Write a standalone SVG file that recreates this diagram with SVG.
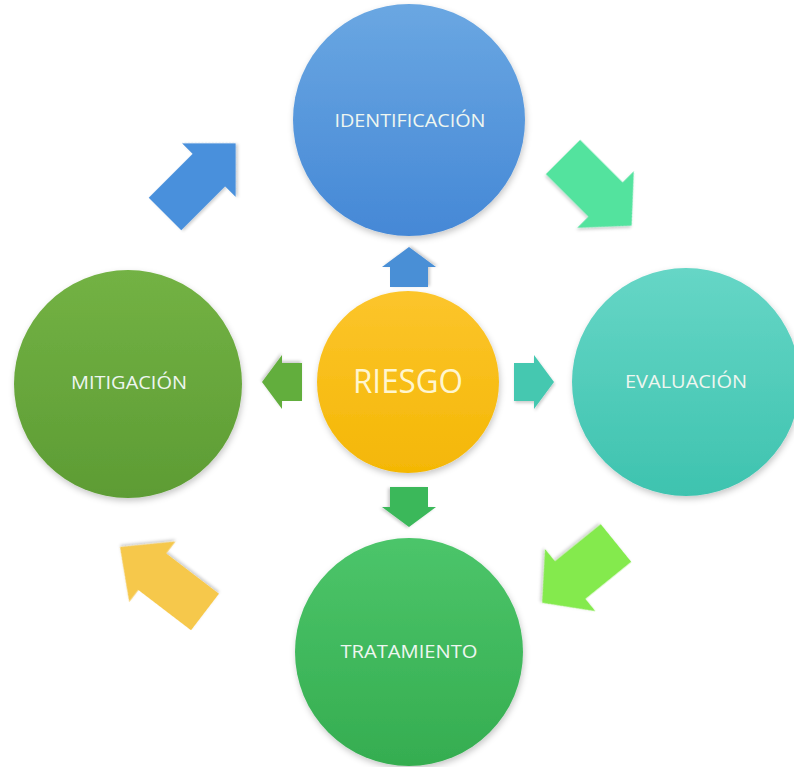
<svg xmlns="http://www.w3.org/2000/svg" width="794" height="767" viewBox="0 0 794 767">
  <style>
    .lbl { font-family: "Open Sans", "Noto Sans", "Liberation Sans", sans-serif; font-size: 19px; fill: #eef6f0; text-anchor: middle; }
    .big { font-size: 32px; fill: #fff6cf; }
  </style>
  <defs>
    <filter id="sh" x="-20%" y="-20%" width="140%" height="140%">
      <feDropShadow dx="1" dy="3" stdDeviation="3" flood-color="#000" flood-opacity="0.22"/>
    </filter>
    <filter id="shs" x="-30%" y="-30%" width="160%" height="160%">
      <feDropShadow dx="1" dy="2" stdDeviation="1.5" flood-color="#000" flood-opacity="0.2"/>
    </filter>
    <linearGradient id="gBlue" x1="0" y1="0" x2="0" y2="1">
      <stop offset="0" stop-color="#6aa7e2"/>
      <stop offset="1" stop-color="#4588d6"/>
    </linearGradient>
    <linearGradient id="gTeal" x1="0" y1="0" x2="0" y2="1">
      <stop offset="0" stop-color="#66d6c6"/>
      <stop offset="1" stop-color="#3ec3af"/>
    </linearGradient>
    <linearGradient id="gOlive" x1="0" y1="0" x2="0" y2="1">
      <stop offset="0" stop-color="#73b244"/>
      <stop offset="1" stop-color="#5d9c34"/>
    </linearGradient>
    <linearGradient id="gGreen" x1="0" y1="0" x2="0" y2="1">
      <stop offset="0" stop-color="#4cc56a"/>
      <stop offset="1" stop-color="#35ad50"/>
    </linearGradient>
    <linearGradient id="gGold" x1="0" y1="0" x2="0" y2="1">
      <stop offset="0" stop-color="#fcc52c"/>
      <stop offset="1" stop-color="#f4b705"/>
    </linearGradient>
    <path id="bigArrow" d="M0,-23 L62,-23 L62,-38 L100,0 L62,38 L62,23 L0,23 Z"/>
    <path id="smallArrow" d="M0,-19 L20,-19 L20,-27 L40,0 L20,27 L20,19 L0,19 Z"/>
  </defs>

  <rect x="0" y="0" width="794" height="767" fill="#ffffff"/>

  <g id="connectors">
    <use href="#bigArrow" transform="translate(165,214) rotate(-45)" fill="#4a90dc" filter="url(#shs)"/>
    <use href="#bigArrow" transform="translate(563,157) rotate(45) scale(0.97,1.05)" fill="#52e39e" filter="url(#shs)"/>
    <use href="#bigArrow" transform="translate(616,543) rotate(141) scale(0.95,1.05)" fill="#84ea4e" filter="url(#shs)"/>
    <use href="#bigArrow" transform="translate(205,612) rotate(217.4) scale(1.07,1)" fill="#f6c84c" filter="url(#shs)"/>
    <use href="#smallArrow" transform="translate(409,287) rotate(-90)" fill="#4a8fd6" filter="url(#shs)"/>
    <use href="#smallArrow" transform="translate(302,382) rotate(180)" fill="#62ae3c" filter="url(#shs)"/>
    <use href="#smallArrow" transform="translate(514,382)" fill="#45c8b0" filter="url(#shs)"/>
    <use href="#smallArrow" transform="translate(409,487) rotate(90)" fill="#3ab85a" filter="url(#shs)"/>
  </g>

  <g id="identificacion">
    <circle cx="409" cy="120" r="116" fill="url(#gBlue)" filter="url(#sh)"/>
    <text class="lbl" x="410" y="127" textLength="151" lengthAdjust="spacingAndGlyphs">IDENTIFICACIÓN</text>
  </g>
  <g id="evaluacion">
    <circle cx="686" cy="382" r="114" fill="url(#gTeal)" filter="url(#sh)"/>
    <text class="lbl" x="686" y="388" textLength="122" lengthAdjust="spacingAndGlyphs">EVALUACIÓN</text>
  </g>
  <g id="mitigacion">
    <circle cx="128" cy="384" r="114" fill="url(#gOlive)" filter="url(#sh)"/>
    <text class="lbl" x="129" y="389" textLength="116" lengthAdjust="spacingAndGlyphs">MITIGACIÓN</text>
  </g>
  <g id="tratamiento">
    <circle cx="409" cy="652" r="114" fill="url(#gGreen)" filter="url(#sh)"/>
    <text class="lbl" x="409" y="658" textLength="137" lengthAdjust="spacingAndGlyphs">TRATAMIENTO</text>
  </g>
  <g id="riesgo">
    <circle cx="408" cy="382" r="91" fill="url(#gGold)" filter="url(#sh)"/>
    <text class="lbl big" x="408" y="393" textLength="110" lengthAdjust="spacingAndGlyphs">RIESGO</text>
  </g>
</svg>
